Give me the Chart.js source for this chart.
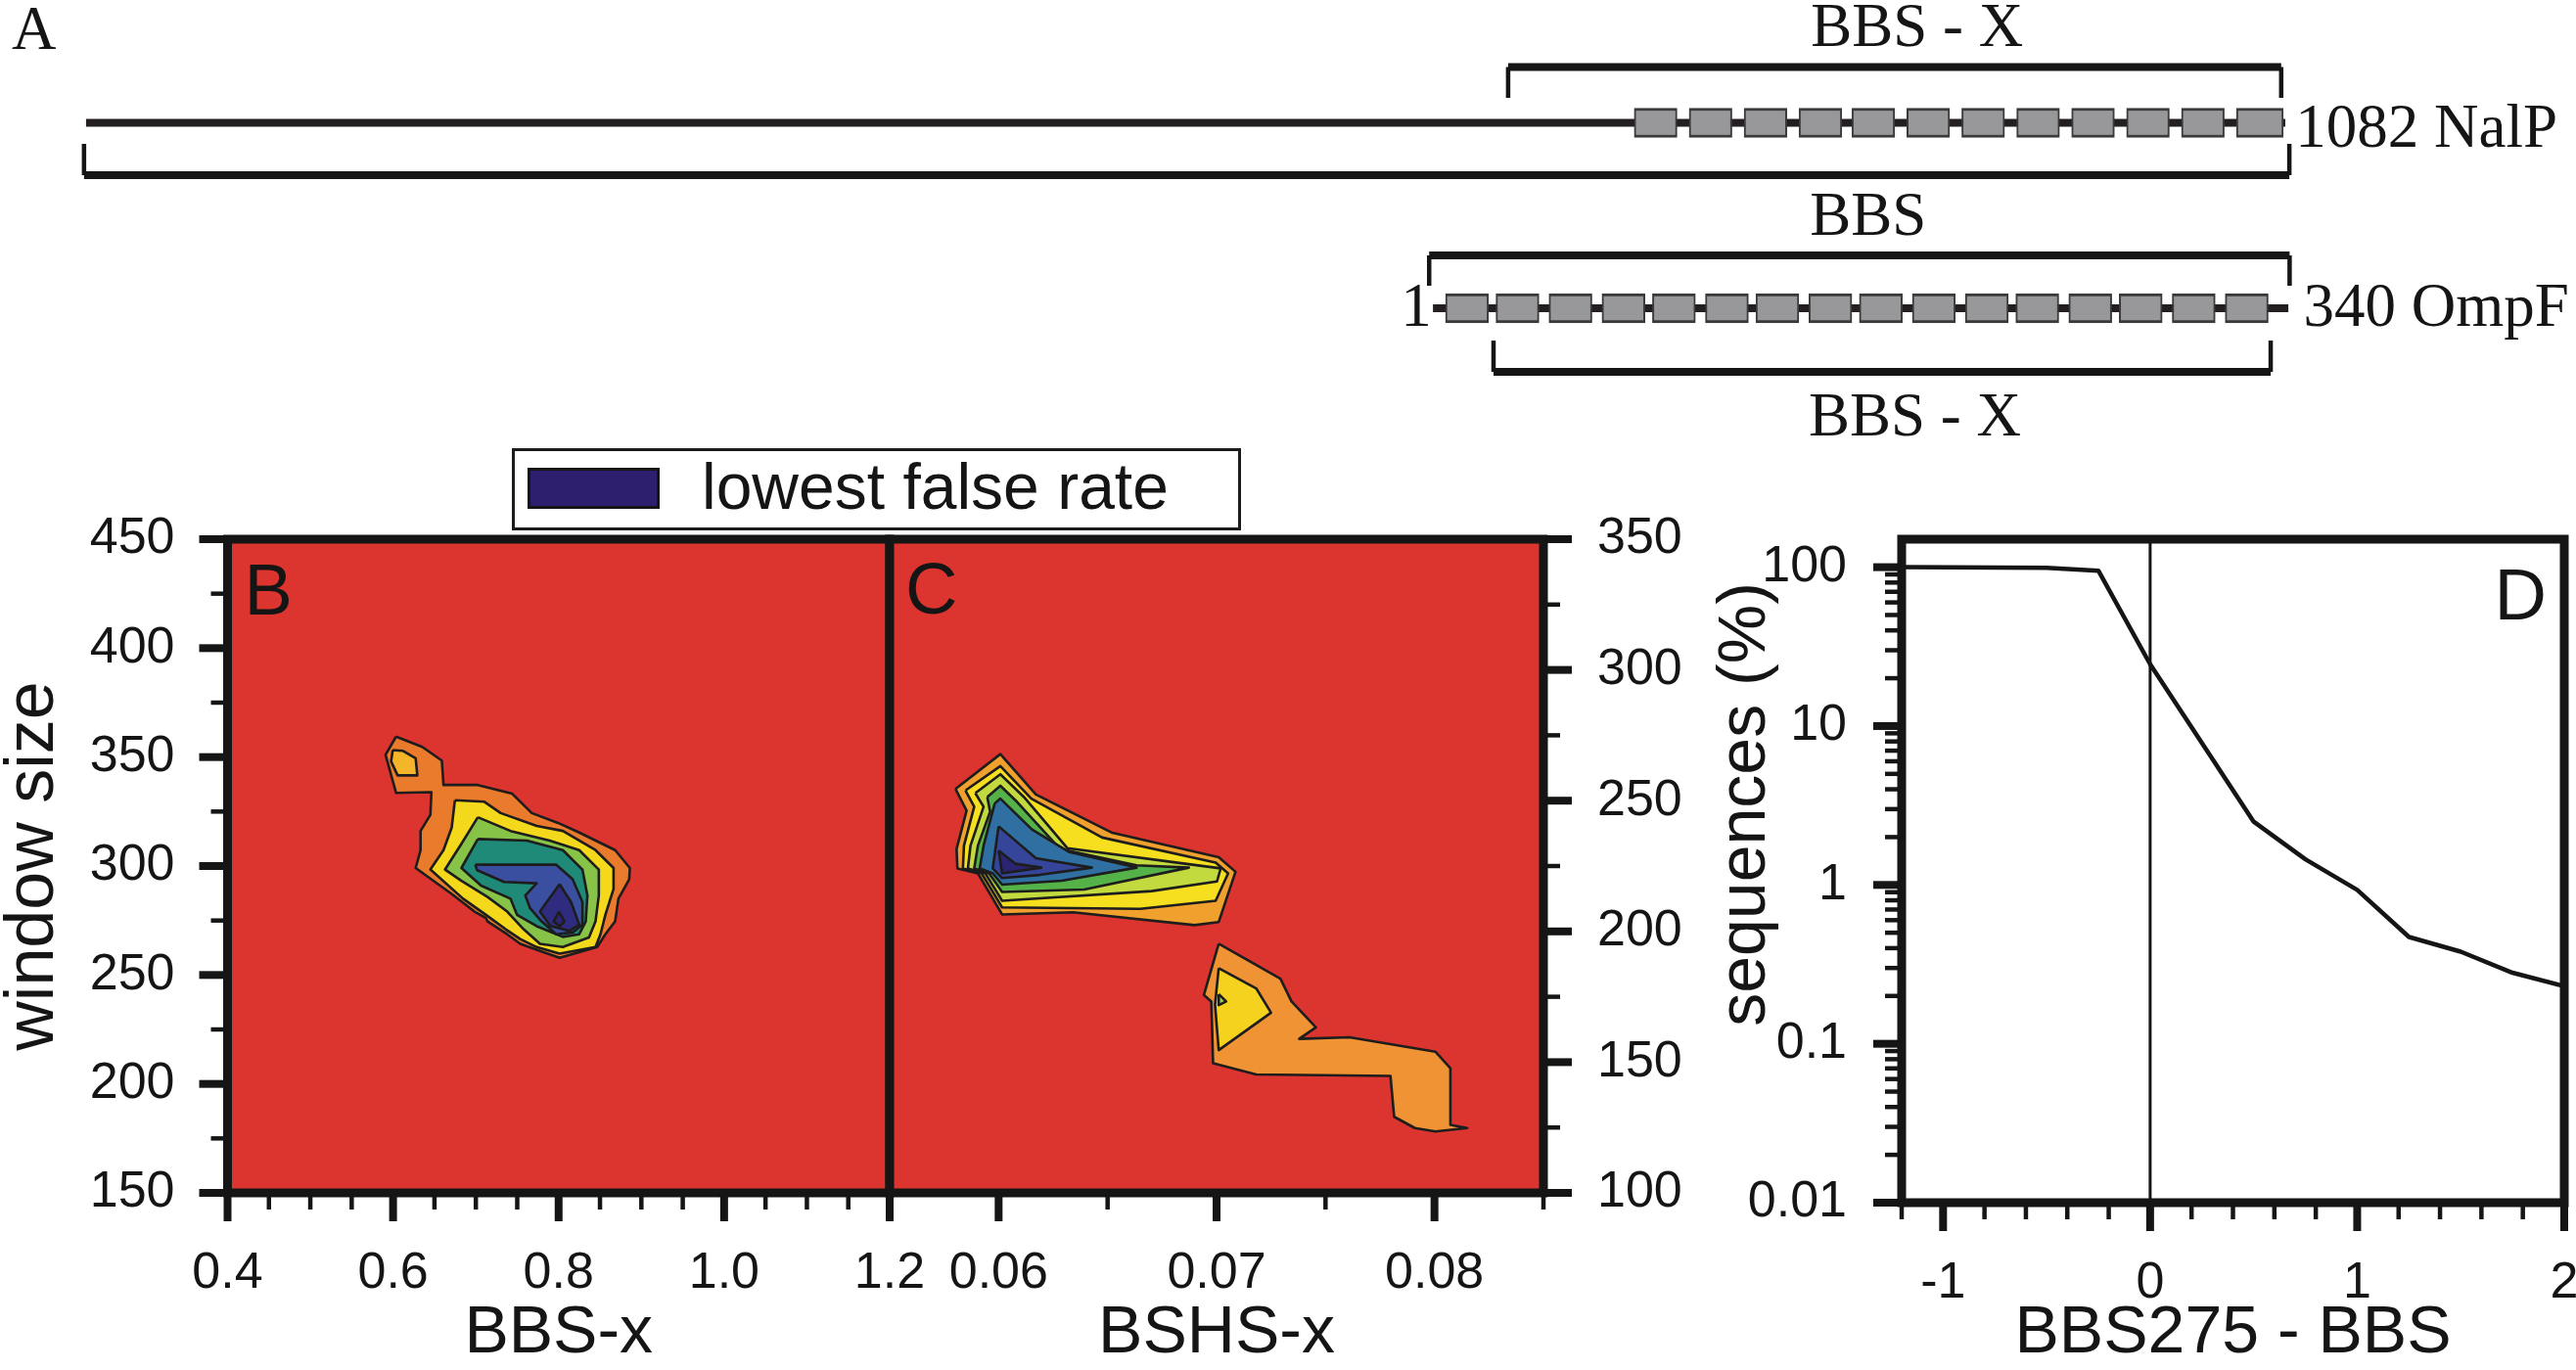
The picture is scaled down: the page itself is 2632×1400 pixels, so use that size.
<!DOCTYPE html>
<html>
<head>
<meta charset="utf-8">
<title>BBS window size and false rate</title>
<script src="https://cdn.jsdelivr.net/npm/chart.js@4.4.1/dist/chart.umd.min.js"></script>
<style>
    html, body { margin: 0; padding: 0; background: #fff; }
    #page { position: relative; width: 2632px; height: 1400px; overflow: hidden; background: #fff; }
    #page canvas { position: absolute; }
    #chartA { left: 0; top: 0; }
    #chartB { left: 0; top: 480px; }
    #chartC { left: 880px; top: 480px; }
    #chartD { left: 1720px; top: 480px; }
    #legend { position: absolute; left: 523px; top: 458px; width: 745px; height: 84px; box-sizing: border-box;
              border: 3px solid #1c1c1c; background: #fff; color: #151515;
              font-family: "Liberation Sans", Arial, sans-serif; }
    #legend .swatch { position: absolute; left: 13px; top: 17px; width: 135px; height: 42px; box-sizing: border-box;
                      border: 3px solid #151515; background: #2e1f6e; }
    #legend .label { position: absolute; left: 191px; top: -5px; font-size: 66px; line-height: 83px; white-space: nowrap; }
</style>
</head>
<body>
<div id="page">
    <canvas id="chartA" width="2632" height="470"></canvas>
    <canvas id="chartB" width="960" height="920"></canvas>
    <canvas id="chartC" width="900" height="920"></canvas>
    <canvas id="chartD" width="912" height="920"></canvas>
    <div id="legend"><div class="swatch"></div><div class="label">lowest false rate</div></div>
</div>
<script>
// ---------- Panel A: domain schematic (residue numbers) ----------
const nalpLength = 1082;
const ompfLength = 340;
const nalpStrands = [[762, 783], [789, 810], [816, 837], [843, 864], [869, 890], [896, 917],
                     [923, 944], [950, 971], [977, 998], [1004, 1025], [1031, 1052], [1058, 1081]];
const ompfStrands = [[6, 23], [26, 43], [47, 64], [68, 85], [88, 105], [109, 126], [129, 146], [150, 167],
                     [170, 187], [191, 208], [212, 229], [232, 249], [253, 270], [273, 290], [294, 311], [315, 332]];
const nalpBbsX = [700, 1080];
const nalpBbs = [0, 1084];
const ompfBbs = [-0.5, 340.5];
const ompfBbsX = [25, 333];

// ---------- Panel B: false rate contours, BBS-x vs window size ----------
const bXMajor = [0.4, 0.6, 0.8, 1.0, 1.2];
const bXLabels = ['0.4', '0.6', '0.8', '1.0', '1.2'];
const bXMinor = [0.45, 0.5, 0.55, 0.65, 0.7, 0.75, 0.85, 0.9, 0.95, 1.05, 1.1, 1.15];
const bYMajor = [150, 200, 250, 300, 350, 400, 450];
const bYLabels = ['150', '200', '250', '300', '350', '400', '450'];
const bYMinor = [175, 225, 275, 325, 375, 425];

const bOuter = [[0.6036, 359.4], [0.6352, 354.7], [0.6589, 348.4], [0.6609, 337.2], [0.7024, 337.2], [0.7439, 333.2],
                [0.7676, 324.3], [0.7992, 319.8], [0.8249, 315.4], [0.8683, 307.3], [0.8861, 299.1], [0.8853, 293.9],
                [0.8723, 285.0], [0.8683, 274.6], [0.8565, 268.7], [0.8466, 262.8], [0.8012, 257.9], [0.7775, 261.0],
                [0.7537, 264.3], [0.7379, 268.7], [0.7142, 274.6], [0.7122, 276.1], [0.6984, 279.1], [0.6708, 287.2],
                [0.6273, 299.1], [0.6332, 307.3], [0.6332, 316.1], [0.6451, 323.5], [0.6463, 333.9], [0.6036, 333.6],
                [0.5909, 351.0]];
const bIsland = [[0.5996, 353.2], [0.6115, 352.9], [0.6273, 349.5], [0.6293, 341.6], [0.6055, 341.6], [0.5976, 348.0]];
const bLevel2 = [[0.6747, 330.2], [0.7103, 329.5], [0.7300, 324.3], [0.7735, 318.4], [0.8051, 316.1], [0.8446, 307.3],
                 [0.8664, 299.1], [0.8664, 289.5], [0.8565, 277.6], [0.8506, 268.7], [0.8446, 262.8], [0.8012, 259.8],
                 [0.7735, 262.8], [0.7537, 266.5], [0.7360, 271.0], [0.7122, 277.6], [0.6846, 285.0], [0.6451, 298.4],
                 [0.6609, 307.3], [0.6708, 317.6]];
const bLevel3 = [[0.7024, 322.4], [0.7419, 316.1], [0.7893, 311.7], [0.8249, 307.3], [0.8486, 298.4], [0.8486, 286.5],
                 [0.8446, 274.6], [0.8367, 267.2], [0.8051, 262.8], [0.7775, 264.3], [0.7577, 271.0], [0.7379, 279.1],
                 [0.7142, 285.8], [0.6826, 293.2], [0.6628, 298.4], [0.6826, 310.2]];
const bLevel4 = [[0.7024, 312.4], [0.7617, 311.7], [0.8051, 307.3], [0.8288, 298.4], [0.8348, 286.5], [0.8328, 274.6],
                 [0.8249, 268.7], [0.8051, 267.5], [0.7735, 272.4], [0.7498, 277.6], [0.7419, 285.0], [0.7063, 291.0],
                 [0.6826, 299.1]];
const bLevel5 = [[0.6992, 300.6], [0.7972, 300.6], [0.8170, 293.9], [0.8288, 283.5], [0.8288, 273.1], [0.8170, 269.5],
                 [0.7972, 268.7], [0.7794, 274.6], [0.7656, 280.6], [0.7597, 286.5], [0.7735, 292.1], [0.7340, 292.7],
                 [0.7016, 298.1]];
const bLevel6 = [[0.8012, 291.7], [0.8150, 283.5], [0.8249, 273.1], [0.8130, 270.2], [0.7900, 272.5], [0.7775, 279.1]];
const bLevel7 = [[0.8004, 279.1], [0.8071, 274.6], [0.8012, 272.4], [0.7940, 274.6]];
const bColors = ['#ea7b2c', '#f4b52b', '#f4d81c', '#86c347', '#1f8a78', '#3a4f9f', '#2f2c80', '#2b2473'];

// ---------- Panel C: false rate contours, BSHS-x vs window size ----------
const cXMajor = [0.06, 0.07, 0.08];
const cXLabels = ['0.06', '0.07', '0.08'];
const cXMinor = [0.055, 0.065, 0.075, 0.085];
const cYMajor = [100, 150, 200, 250, 300, 350];
const cYLabels = ['100', '150', '200', '250', '300', '350'];
const cYMinor = [125, 175, 225, 275, 325];

const cUpper1 = [[0.05802, 254.5], [0.06008, 267.8], [0.06171, 252.4], [0.06522, 237.7], [0.07010, 228.4], [0.07087, 222.8],
                 [0.07010, 203.6], [0.06899, 202.4], [0.06342, 207.3], [0.06016, 206.5], [0.05905, 222.2], [0.05811, 224.1],
                 [0.05807, 231.5], [0.05853, 246.2]];
const cUpper2 = [[0.05848, 253.9], [0.06008, 263.2], [0.06150, 250.8], [0.06475, 235.9], [0.06996, 226.3], [0.07053, 222.2],
                 [0.06996, 211.7], [0.06650, 208.6], [0.06016, 209.2], [0.05922, 222.2], [0.05836, 224.1], [0.05841, 232.8],
                 [0.05888, 247.7]];
const cUpper3 = [[0.05893, 252.9], [0.06008, 260.1], [0.06116, 251.4], [0.06316, 231.8], [0.06856, 225.9], [0.07019, 224.1],
                 [0.07002, 219.1], [0.06702, 215.4], [0.06016, 211.7], [0.05939, 222.2], [0.05859, 224.1], [0.05871, 232.8],
                 [0.05931, 247.7]];
const cUpper4 = [[0.05948, 251.4], [0.06008, 255.7], [0.06085, 249.5], [0.06282, 231.5], [0.06633, 225.3], [0.06873, 224.4],
                 [0.06393, 216.0], [0.06016, 215.1], [0.05956, 222.2], [0.05888, 224.1], [0.05905, 232.8], [0.05961, 245.8]];
const cUpper5 = [[0.05982, 248.9], [0.06008, 250.8], [0.06153, 239.0], [0.06325, 230.3], [0.06633, 224.4], [0.06290, 219.4],
                 [0.06016, 217.9], [0.05973, 222.2], [0.05913, 224.1], [0.05931, 232.8]];
const cUpper6 = [[0.06000, 240.2], [0.06171, 228.0], [0.06428, 224.4], [0.06188, 221.6], [0.06016, 220.4], [0.05973, 224.1]];
const cUpper7 = [[0.06000, 230.9], [0.06076, 225.9], [0.06196, 224.4], [0.06016, 222.2]];
const cLower1 = [[0.07010, 195.3], [0.07293, 181.9], [0.07344, 173.2], [0.07456, 163.3], [0.07379, 158.9], [0.07610, 159.5],
                 [0.08004, 154.0], [0.08073, 147.7], [0.08073, 126.0], [0.08150, 124.8], [0.08004, 123.5], [0.07910, 124.8],
                 [0.07815, 129.1], [0.07798, 144.7], [0.07182, 145.3], [0.06984, 149.6], [0.06976, 173.2], [0.06942, 175.7]];
const cLower2 = [[0.07010, 185.9], [0.07182, 178.2], [0.07250, 168.9], [0.07010, 154.6], [0.06993, 172.0]];
const cLower3 = [[0.07010, 176.0], [0.07044, 173.2], [0.07010, 171.8]];
const cColors = ['#f0a02d', '#f6df1e', '#c2da3e', '#55b248', '#2f6fa2', '#34459a', '#2b2473',
                 '#ef9334', '#f5d21e', '#a3cf48'];

// ---------- Panel D: sequences vs BBS275 - BBS ----------
const dX = [-1.2, -0.5, -0.25, 0, 0.5, 0.75, 1, 1.25, 1.5, 1.75, 2];
const dY = [100, 99, 95, 24.5, 2.5, 1.45, 0.93, 0.47, 0.38, 0.28, 0.23];
const dRefX = 0;
const dXMajor = [-1, 0, 1, 2];
const dXLabels = ['-1', '0', '1', '2'];
const dXMinor = [-1.2, -0.8, -0.6, -0.4, -0.2, 0.2, 0.4, 0.6, 0.8, 1.2, 1.4, 1.6, 1.8];
const dYMajor = [0.01, 0.1, 1, 10, 100];
const dYLabels = ['0.01', '0.1', '1', '10', '100'];
const dYMinor = [0.02, 0.03, 0.04, 0.05, 0.06, 0.07, 0.08, 0.09, 0.2, 0.3, 0.4, 0.5, 0.6, 0.7, 0.8, 0.9,
                 2, 3, 4, 5, 6, 7, 8, 9, 20, 30, 40, 50, 60, 70, 80, 90];

// ---------- styling ----------
const ink = '#151515';
const red = '#dc352f';
const tickFont = { family: 'Liberation Sans', size: 52 };
const letterFont = '74px "Liberation Sans"';
const serifFont = '63px "Liberation Serif"';
const frameStyle = { frame: 9, major: 29, minor: 17, majorWidth: 8, minorWidth: 4.5 };

// pixel rows of the schematic (canvas A is 470 px tall)
const rowsA = { nalpTopBar: 68.5, nalpTopTip: 100, nalp: 125.5, nalpLowTip: 147, nalpLowBar: 179,
                ompfTopBar: 261, ompfTopTip: 292, ompf: 315, ompfLowTip: 348, ompfLowBar: 380 };

// Red field behind the contours
const plotBackground = {
    id: 'plotBackground',
    beforeDatasetsDraw(chart, args, opts) {
        if (!opts.color) return;
        const a = chart.chartArea;
        const ctx = chart.ctx;
        ctx.save();
        ctx.fillStyle = opts.color;
        ctx.fillRect(a.left, a.top, a.right - a.left, a.bottom - a.top);
        ctx.restore();
    }
};

// Thick frame plus outward major / minor tick marks
const frameTicks = {
    id: 'frameTicks',
    afterDraw(chart, args, opts) {
        const a = chart.chartArea;
        const ctx = chart.ctx;
        ctx.save();
        ctx.strokeStyle = ink;
        ctx.lineWidth = opts.frame;
        ctx.strokeRect(a.left, a.top, a.right - a.left, a.bottom - a.top);
        Object.values(chart.scales).forEach(scale => {
            if (!scale.options.display) return;
            scale.ticks.forEach(t => {
                const p = scale.getPixelForValue(t.value);
                const len = t.major ? opts.major : opts.minor;
                ctx.lineWidth = t.major ? opts.majorWidth : opts.minorWidth;
                ctx.beginPath();
                if (scale.position === 'bottom') {
                    ctx.moveTo(p, a.bottom);
                    ctx.lineTo(p, a.bottom + len);
                } else if (scale.position === 'left') {
                    ctx.moveTo(a.left, p);
                    ctx.lineTo(a.left - len, p);
                } else if (scale.position === 'right') {
                    ctx.moveTo(a.right, p);
                    ctx.lineTo(a.right + len, p);
                }
                ctx.stroke();
            });
        });
        ctx.restore();
    }
};

// Panel letters A-D
const panelLetter = {
    id: 'panelLetter',
    afterDraw(chart, args, opts) {
        if (!opts.text) return;
        const a = chart.chartArea;
        const ctx = chart.ctx;
        ctx.save();
        ctx.font = opts.font;
        ctx.fillStyle = ink;
        ctx.textBaseline = 'alphabetic';
        ctx.textAlign = opts.align || 'left';
        const x = opts.align === 'right' ? a.right - opts.dx : a.left + opts.dx;
        ctx.fillText(opts.text, x, a.top + opts.dy);
        ctx.restore();
    }
};

// Rotated axis title that is not centred on the axis (panel D)
const sideTitle = {
    id: 'sideTitle',
    afterDraw(chart, args, opts) {
        if (!opts.text) return;
        const a = chart.chartArea;
        const ctx = chart.ctx;
        ctx.save();
        ctx.translate(a.left - opts.dx, (a.top + a.bottom) / 2 - opts.dy);
        ctx.rotate(-Math.PI / 2);
        ctx.font = opts.font;
        ctx.fillStyle = ink;
        ctx.textAlign = 'center';
        ctx.textBaseline = 'middle';
        ctx.fillText(opts.text, 0, 0);
        ctx.restore();
    }
};

// Labels of the schematic, placed on the residue axes
const schematicText = {
    id: 'schematicText',
    afterDatasetsDraw(chart, args, opts) {
        const ctx = chart.ctx;
        const y = chart.scales.y;
        ctx.save();
        ctx.font = opts.font;
        ctx.fillStyle = ink;
        ctx.textBaseline = 'alphabetic';
        opts.items.forEach(it => {
            ctx.textAlign = it.align;
            ctx.fillText(it.text, chart.scales[it.axis].getPixelForValue(it.x), y.getPixelForValue(it.y));
        });
        ctx.restore();
    }
};

function setTicks(major, minor) {
    return function (scale) {
        scale.ticks = major.map(v => ({ value: v, major: true }))
            .concat(minor.map(v => ({ value: v, major: false })))
            .sort((p, q) => p.value - q.value);
    };
}

function labelFrom(major, labels) {
    return function (value) {
        const i = major.indexOf(value);
        return i >= 0 ? labels[i] : '';
    };
}

// fixed axis size, and no extra room for labels that overhang the plot edges
function fixSize(horizontal, size) {
    return function (s) {
        if (horizontal) s.height = size; else s.width = size;
        s.paddingLeft = 0;
        s.paddingRight = 0;
        s.paddingTop = 0;
        s.paddingBottom = 0;
    };
}

function cartesian(o) {
    return {
        type: o.type || 'linear',
        position: o.position,
        min: o.min,
        max: o.max,
        offset: false,
        afterBuildTicks: setTicks(o.major, o.minor),
        afterFit: fixSize(o.position === 'bottom', o.size),
        grid: { display: false, drawTicks: false },
        border: { display: false },
        ticks: {
            autoSkip: false, maxRotation: 0, minRotation: 0,
            padding: o.padding, color: ink, font: tickFont,
            callback: labelFrom(o.major, o.labels)
        },
        title: o.title ? {
            display: true, text: o.title, color: ink,
            font: { family: 'Liberation Sans', size: o.titleSize || 68, lineHeight: 1 },
            padding: o.titlePadding || 0
        } : { display: false }
    };
}

function contourSets(levels, colors) {
    return levels.map((pts, i) => ({
        type: 'line',
        data: pts.concat([pts[0]]).map(([x, y]) => ({ x, y })),
        fill: 'shape',
        backgroundColor: colors[i],
        borderColor: '#1d1d1d',
        borderWidth: 2.6,
        borderJoinStyle: 'round',
        pointRadius: 0,
        tension: 0,
        order: 100 - i
    }));
}

function bracket(axis, span, bar, tip) {
    return [
        { type: 'line', xAxisID: axis, data: [{ x: span[0], y: bar }, { x: span[1], y: bar }],
          borderColor: ink, borderWidth: 8, borderCapStyle: 'butt', pointRadius: 0, order: 3 },
        { type: 'line', xAxisID: axis,
          data: [{ x: span[0], y: tip }, { x: span[0], y: bar }, { x: span[0], y: null },
                 { x: span[1], y: bar }, { x: span[1], y: tip }],
          borderColor: ink, borderWidth: 4.5, pointRadius: 0, spanGaps: false, order: 3 }
    ];
}

function baseOptions(scales, padding, pluginOpts) {
    return {
        responsive: false,
        animation: false,
        events: [],
        layout: { padding },
        scales,
        plugins: Object.assign({ legend: { display: false }, tooltip: { enabled: false } }, pluginOpts)
    };
}

function drawAll() {
    // Panel A
    new Chart(document.getElementById('chartA'), {
        type: 'line',
        data: {
            datasets: [
                { type: 'bar', indexAxis: 'y', xAxisID: 'xN', yAxisID: 'y',
                  data: nalpStrands.map(s => ({ x: s, y: rowsA.nalp })),
                  barThickness: 30, grouped: false, backgroundColor: '#98989b', borderColor: '#3a3a3c',
                  borderWidth: { top: 3, bottom: 3, left: 2, right: 2 }, borderSkipped: false, order: 1 },
                { type: 'bar', indexAxis: 'y', xAxisID: 'xO', yAxisID: 'y',
                  data: ompfStrands.map(s => ({ x: s, y: rowsA.ompf })),
                  barThickness: 30, grouped: false, backgroundColor: '#98989b', borderColor: '#3a3a3c',
                  borderWidth: { top: 3, bottom: 3, left: 2, right: 2 }, borderSkipped: false, order: 1 },
                { type: 'line', xAxisID: 'xN', data: [{ x: 1, y: rowsA.nalp }, { x: nalpLength, y: rowsA.nalp }],
                  borderColor: '#231f20', borderWidth: 8, pointRadius: 0, order: 2 },
                { type: 'line', xAxisID: 'xO', data: [{ x: 1, y: rowsA.ompf }, { x: ompfLength, y: rowsA.ompf }],
                  borderColor: '#231f20', borderWidth: 8, pointRadius: 0, order: 2 }
            ].concat(
                bracket('xN', nalpBbsX, rowsA.nalpTopBar, rowsA.nalpTopTip),
                bracket('xN', nalpBbs, rowsA.nalpLowBar, rowsA.nalpLowTip),
                bracket('xO', ompfBbs, rowsA.ompfTopBar, rowsA.ompfTopTip),
                bracket('xO', ompfBbsX, rowsA.ompfLowBar, rowsA.ompfLowTip)
            )
        },
        options: baseOptions({
            xN: { type: 'linear', axis: 'x', display: false, offset: false, min: -41.3, max: 1224.9 },
            xO: { type: 'linear', axis: 'x', display: false, offset: false, min: -566.9, max: 454.0 },
            y: { type: 'linear', axis: 'y', display: false, offset: false, reverse: true, min: 0, max: 470 }
        }, 0, {
            panelLetter: { text: 'A', dx: 12, dy: 50, font: serifFont },
            schematicText: {
                font: serifFont,
                items: [
                    { text: 'BBS - X', axis: 'xN', x: 901, y: 47, align: 'center' },
                    { text: '1082 NalP', axis: 'xN', x: 1087, y: 150, align: 'left' },
                    { text: 'BBS', axis: 'xN', x: 877, y: 240, align: 'center' },
                    { text: '1', axis: 'xO', x: 0.5, y: 333, align: 'right' },
                    { text: '340 OmpF', axis: 'xO', x: 346, y: 333, align: 'left' },
                    { text: 'BBS - X', axis: 'xO', x: 192, y: 445, align: 'center' }
                ]
            }
        }),
        plugins: [panelLetter, schematicText]
    });

    // Panel B
    new Chart(document.getElementById('chartB'), {
        type: 'line',
        data: { datasets: contourSets([bOuter, bIsland, bLevel2, bLevel3, bLevel4, bLevel5, bLevel6, bLevel7], bColors) },
        options: baseOptions({
            x: cartesian({ position: 'bottom', min: 0.4, max: 1.2, major: bXMajor, minor: bXMinor, labels: bXLabels,
                           size: 181, padding: 51, title: 'BBS-x', titlePadding: { top: 0, bottom: 3 } }),
            y: cartesian({ position: 'left', min: 150, max: 450, major: bYMajor, minor: bYMinor, labels: bYLabels,
                           size: 232.5, padding: 54, title: 'window size', titleSize: 70, titlePadding: { top: 0, bottom: 0 } })
        }, { left: 0, right: 51, top: 71, bottom: 0 }, {
            plotBackground: { color: red },
            frameTicks: frameStyle,
            panelLetter: { text: 'B', dx: 17, dy: 77, font: letterFont }
        }),
        plugins: [plotBackground, frameTicks, panelLetter]
    });

    // Panel C
    new Chart(document.getElementById('chartC'), {
        type: 'line',
        data: { datasets: contourSets([cUpper1, cUpper2, cUpper3, cUpper4, cUpper5, cUpper6, cUpper7,
                                       cLower1, cLower2, cLower3], cColors) },
        options: baseOptions({
            x: cartesian({ position: 'bottom', min: 0.055, max: 0.085, major: cXMajor, minor: cXMinor, labels: cXLabels,
                           size: 181, padding: 51, title: 'BSHS-x', titlePadding: { top: 0, bottom: 3 } }),
            y: cartesian({ position: 'right', min: 100, max: 350, major: cYMajor, minor: cYMinor, labels: cYLabels,
                           size: 203, padding: 55 })
        }, { left: 29, right: 0, top: 71, bottom: 0 }, {
            plotBackground: { color: red },
            frameTicks: frameStyle,
            panelLetter: { text: 'C', dx: 16, dy: 76, font: letterFont }
        }),
        plugins: [plotBackground, frameTicks, panelLetter]
    });

    // Panel D
    new Chart(document.getElementById('chartD'), {
        type: 'line',
        data: {
            datasets: [
                { data: dX.map((x, i) => ({ x, y: dY[i] })), borderColor: ink, borderWidth: 4.5,
                  pointRadius: 0, tension: 0, borderJoinStyle: 'round' },
                { data: [{ x: dRefX, y: 0.01 }, { x: dRefX, y: 150 }], borderColor: ink, borderWidth: 3, pointRadius: 0 }
            ]
        },
        options: baseOptions({
            x: cartesian({ position: 'bottom', min: -1.2, max: 2, major: dXMajor, minor: dXMinor, labels: dXLabels,
                           size: 171, padding: 51, title: 'BBS275 - BBS', titlePadding: { top: 0, bottom: 3 } }),
            y: cartesian({ type: 'logarithmic', position: 'left', min: 0.01, max: 150, major: dYMajor, minor: dYMinor,
                           labels: dYLabels, size: 223, padding: 56 })
        }, { left: 0, right: 12, top: 71, bottom: 0 }, {
            frameTicks: frameStyle,
            panelLetter: { text: 'D', dx: 18, dy: 82, font: letterFont, align: 'right' },
            sideTitle: { text: 'sequences (%)', dx: 159, dy: 68, font: '68px "Liberation Sans"' }
        }),
        plugins: [frameTicks, panelLetter, sideTitle]
    });
}

Promise.all([
    document.fonts.load('52px "Liberation Sans"'),
    document.fonts.load('63px "Liberation Serif"')
]).then(drawAll, drawAll);
</script>
</body>
</html>
